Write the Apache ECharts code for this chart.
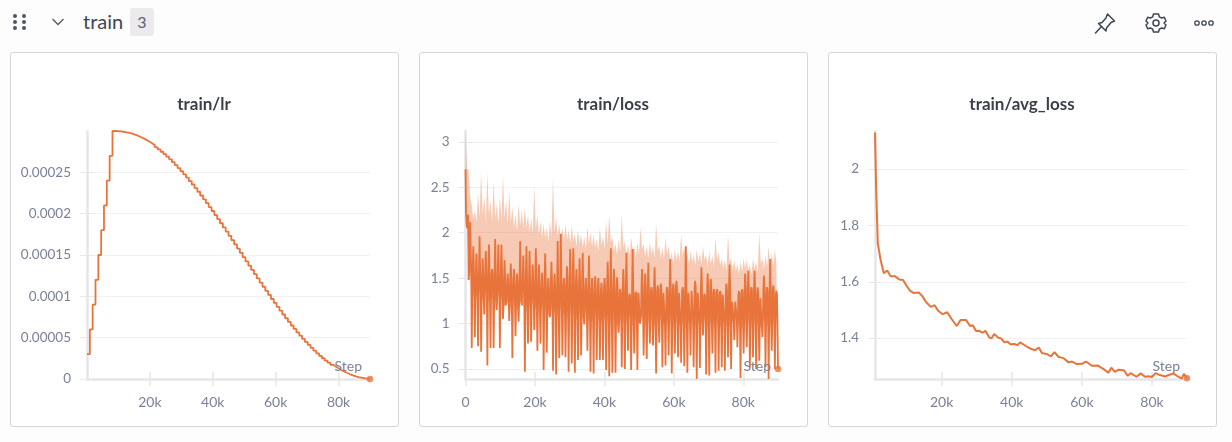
<!DOCTYPE html>
<html>
<head>
<meta charset="utf-8">
<script src="https://cdn.jsdelivr.net/npm/echarts@6/dist/echarts.min.js"></script>
<style>
html, body { margin: 0; padding: 0; background: #fdfdfd; width: 1232px; height: 442px; overflow: hidden; }
body { font-family: Lato, "Noto Sans", sans-serif; }
.card { position: absolute; top: 52px; width: 387px; height: 373px; background: #fff; border: 1px solid #d6d6d9; border-radius: 3px; }
.chart { width: 386px; height: 372px; }
.icon { position: absolute; }
#name { position: absolute; left: 83px; top: 8px; font-size: 20px; line-height: 26px; color: #3f4654; }
#count { position: absolute; left: 130px; top: 8px; width: 24px; height: 28px; line-height: 28px; text-align: center; font-size: 16px; color: #5b6270; background: #ebebed; border-radius: 3px; }
</style>
</head>
<body>

<svg class="icon" style="left:12px;top:13px" width="16" height="18" fill="#4f5663">
    <circle cx="3" cy="3" r="2"/><circle cx="12" cy="3" r="2"/>
    <circle cx="3" cy="9" r="2"/><circle cx="12" cy="9" r="2"/>
    <circle cx="3" cy="15" r="2"/><circle cx="12" cy="15" r="2"/>
</svg>
<svg class="icon" style="left:50px;top:16px" width="16" height="12" fill="none" stroke="#4f5663" stroke-width="1.3">
    <path d="M2.5 3 L8 8.5 L13.5 3"/>
</svg>
<div id="name">train</div>
<div id="count">3</div>

<svg class="icon" style="left:1093px;top:11px" width="24" height="24" fill="none" stroke="#3f4654" stroke-width="1.5" stroke-linejoin="round" stroke-linecap="round">
    <path d="M14.5 3 L21.5 10 L18 11.5 L13.5 17 L13 20 L5.5 12.5 L9 11.5 L13 7 Z"/>
    <path d="M8.5 15.5 L2.5 22"/>
</svg>
<svg class="icon" style="left:1144px;top:11px" width="24" height="24" fill="none" stroke="#3f4654" stroke-width="1.5" stroke-linejoin="round">
    <path d="M9.5 3 H14.5 L15.3 5.8 L17.6 7 L20.3 6.2 L22 10 L20 12 L22 14 L20.3 17.8 L17.6 17 L15.3 18.2 L14.5 21 H9.5 L8.7 18.2 L6.4 17 L3.7 17.8 L2 14 L4 12 L2 10 L3.7 6.2 L6.4 7 L8.7 5.8 Z"/>
    <circle cx="12" cy="12" r="3"/>
</svg>
<svg class="icon" style="left:1193px;top:18px" width="22" height="10" fill="none" stroke="#3f4654" stroke-width="1.3">
    <circle cx="4" cy="5" r="2.2"/><circle cx="11" cy="5" r="2.2"/><circle cx="18" cy="5" r="2.2"/>
</svg>

<div class="card" style="left:10px"><div id="lrChart" class="chart"></div></div>
<div class="card" style="left:419px"><div id="lossChart" class="chart"></div></div>
<div class="card" style="left:828px"><div id="avgChart" class="chart"></div></div>

<script>
const STEPS_PER_EPOCH = 900;
const LAST_STEP = 90000;

// train/lr, one value per epoch, in units of 1e-5
const lrValues = [
    3, 6, 9, 12, 15, 18, 21, 24, 27, 30,
    29.99, 29.96, 29.91, 29.84, 29.78, 29.68, 29.56, 29.43, 29.28, 29.11,
    28.93, 28.73, 28.52, 28.28, 28.03, 27.77, 27.49, 27.2, 26.89, 26.57,
    26.23, 25.88, 25.52, 25.14, 24.75, 24.36, 23.94, 23.53, 23.09, 22.65,
    22.2, 21.74, 21.27, 20.8, 20.32, 19.83, 19.34, 18.84, 18.34, 17.83,
    17.32, 16.81, 16.29, 15.78, 15.26, 14.74, 14.22, 13.71, 13.19, 12.68,
    12.17, 11.66, 11.16, 10.66, 10.17, 9.68, 9.2, 8.73, 8.26, 7.8,
    7.35, 6.91, 6.47, 6.06, 5.64, 5.25, 4.86, 4.48, 4.12, 3.77,
    3.43, 3.11, 2.8, 2.51, 2.23, 1.97, 1.72, 1.48, 1.27, 1.07,
    0.89, 0.72, 0.57, 0.44, 0.32, 0.22, 0.16, 0.09, 0.04, 0.01, 0
];

// train/loss, readings per epoch: spike down, solid core bottom and top, spike up, light band
const lossLow = [
    2.7, 1.48, 0.73, 0.85, 0.75, 0.69, 1.1, 0.54, 0.73, 0.73,
    1.15, 0.73, 1.05, 1.18, 1.03, 0.62, 0.86, 1.02, 1.2, 0.47,
    0.78, 0.8, 0.93, 0.7, 0.78, 0.49, 0.68, 1.07, 0.48, 0.44,
    0.62, 0.65, 0.63, 0.47, 0.56, 0.46, 0.6, 0.65, 0.99, 0.7,
    0.47, 0.45, 0.6, 0.6, 0.6, 0.49, 0.42, 0.46, 0.46, 0.9,
    0.52, 0.5, 0.7, 0.49, 0.67, 0.49, 0.99, 0.65, 0.61, 0.78,
    0.76, 0.45, 0.79, 0.52, 0.54, 0.65, 0.45, 0.67, 0.63, 0.57,
    0.53, 0.46, 0.65, 0.52, 0.39, 0.51, 0.87, 0.44, 0.43, 0.67,
    0.46, 0.48, 0.52, 0.48, 0.63, 0.5, 0.82, 0.74, 0.4, 0.67,
    0.74, 0.52, 0.63, 0.5, 0.59, 0.85, 0.52, 0.39, 0.7, 0.5
];
const lossHigh = [
    2.05, 2.12, 1.85, 1.77, 1.96, 1.72, 1.8, 1.87, 1.6, 1.93,
    1.87, 1.87, 1.7, 1.55, 1.66, 1.6, 1.55, 1.91, 1.75, 1.85,
    1.8, 1.65, 1.83, 1.65, 1.56, 1.77, 1.5, 1.68, 1.55, 1.91,
    1.99, 1.5, 1.63, 1.82, 1.83, 1.6, 1.72, 1.78, 1.5, 1.75,
    1.5, 1.52, 1.5, 1.45, 1.5, 1.68, 1.83, 1.6, 1.51, 1.38,
    1.6, 1.78, 1.33, 1.82, 1.35, 1.36, 1.6, 1.55, 1.67, 1.4,
    1.62, 1.42, 1.44, 1.36, 1.4, 1.71, 1.44, 1.47, 1.36, 1.4,
    1.85, 1.36, 1.38, 1.47, 1.36, 1.62, 1.33, 1.55, 1.49, 1.38,
    1.38, 1.36, 1.34, 1.44, 1.65, 1.25, 1.24, 1.36, 1.38, 1.55,
    1.58, 1.4, 1.58, 1.4, 1.29, 1.53, 1.4, 1.71, 1.42, 1.36
];
const lossCore = [
    2.2, 1.55, 1.3, 1.28, 1.32, 1.26, 1.3, 1.24, 1.28, 1.22,
    1.3, 1.26, 1.2, 1.24, 1.18, 1.22, 1.16, 1.24, 1.2, 1.14,
    1.18, 1.22, 1.16, 1.12, 1.18, 1.14, 1.1, 1.16, 1.12, 1.08,
    1.14, 1.1, 1.06, 1.12, 1.08, 1.04, 1.1, 1.06, 1.12, 1.04,
    1.02, 1.08, 1.04, 1.0, 1.06, 1.02, 1.0, 1.04, 0.98, 1.04,
    1.0, 1.02, 1.06, 0.98, 1.02, 1.0, 1.08, 0.98, 1.02, 1.04,
    0.98, 1.0, 1.04, 0.98, 1.0, 1.02, 0.96, 1.02, 0.98, 1.0,
    0.96, 1.0, 1.02, 0.96, 1.0, 0.98, 1.04, 0.96, 1.0, 0.98,
    1.02, 0.96, 1.0, 0.98, 0.96, 1.02, 1.04, 0.98, 0.96, 1.0,
    1.02, 0.96, 1.0, 0.98, 0.96, 1.04, 0.98, 0.96, 1.0, 1.0
];
const lossTop = [
    2.1, 1.8, 1.62, 1.58, 1.6, 1.55, 1.62, 1.58, 1.55, 1.6,
    1.56, 1.6, 1.5, 1.46, 1.5, 1.48, 1.45, 1.55, 1.52, 1.56,
    1.5, 1.48, 1.52, 1.48, 1.42, 1.5, 1.4, 1.46, 1.42, 1.5,
    1.52, 1.42, 1.48, 1.5, 1.52, 1.45, 1.46, 1.48, 1.4, 1.45,
    1.38, 1.4, 1.38, 1.36, 1.4, 1.44, 1.46, 1.42, 1.4, 1.34,
    1.42, 1.44, 1.3, 1.44, 1.32, 1.34, 1.42, 1.4, 1.42, 1.36,
    1.4, 1.36, 1.38, 1.34, 1.36, 1.42, 1.38, 1.4, 1.34, 1.36,
    1.44, 1.34, 1.36, 1.4, 1.34, 1.4, 1.3, 1.4, 1.38, 1.34,
    1.34, 1.32, 1.32, 1.36, 1.42, 1.24, 1.24, 1.32, 1.34, 1.4,
    1.4, 1.36, 1.4, 1.34, 1.28, 1.38, 1.36, 1.42, 1.36, 1.32
];
// top of the light band: lossUpper holds the thin peaks, lossBandTop the solid level under them
const lossUpper = [
    3.12, 2.69, 2.3, 2.25, 2.43, 2.67, 2.4, 2.65, 2.35, 2.56,
    2.32, 2.4, 2.63, 2.36, 2.45, 2.28, 2.2, 2.32, 2.25, 2.28,
    2.2, 2.17, 2.52, 2.19, 2.13, 2.1, 2.06, 2.13, 2.61, 2.17,
    2.1, 2.06, 2.1, 2.03, 2.08, 1.99, 2.03, 1.98, 1.96, 2.06,
    2.0, 1.98, 1.93, 2.06, 1.96, 2.13, 2.2, 1.95, 1.88, 1.92,
    2.2, 1.9, 1.87, 1.96, 1.85, 1.9, 2.06, 1.88, 1.86, 1.9,
    1.85, 2.1, 1.86, 1.84, 1.95, 1.85, 1.78, 1.82, 1.8, 1.99,
    1.85, 1.78, 1.8, 1.76, 1.82, 1.78, 1.85, 1.76, 1.8, 1.75,
    1.95, 1.78, 1.72, 1.7, 1.98, 1.72, 1.7, 1.66, 1.68, 1.72,
    1.7, 1.65, 1.72, 1.68, 2.0, 1.72, 1.75, 1.85, 1.78, 1.82
];
const lossBandTop = [
    2.7, 2.4, 2.15, 2.12, 2.18, 2.2, 2.14, 2.2, 2.12, 2.16,
    2.1, 2.14, 2.16, 2.08, 2.12, 2.06, 2.02, 2.08, 2.04, 2.06,
    2.0, 1.98, 2.04, 1.98, 1.95, 1.94, 1.9, 1.96, 2.0, 1.96,
    1.92, 1.9, 1.92, 1.88, 1.9, 1.85, 1.88, 1.84, 1.82, 1.88,
    1.85, 1.83, 1.8, 1.86, 1.82, 1.88, 1.9, 1.8, 1.76, 1.78,
    1.84, 1.76, 1.74, 1.8, 1.72, 1.76, 1.82, 1.74, 1.72, 1.76,
    1.72, 1.8, 1.72, 1.7, 1.76, 1.7, 1.66, 1.7, 1.68, 1.74,
    1.7, 1.65, 1.68, 1.64, 1.68, 1.65, 1.7, 1.63, 1.66, 1.62,
    1.7, 1.64, 1.6, 1.58, 1.68, 1.6, 1.58, 1.55, 1.57, 1.6,
    1.58, 1.54, 1.6, 1.56, 1.66, 1.6, 1.62, 1.66, 1.62, 1.64
];
const lossLast = 0.5;

// train/avg_loss
const avgSteps = [
    1000, 1300, 1800, 2600, 3500, 4500, 5400, 6700, 7900, 9000,
    10000, 11000, 12100, 13500, 14500, 15500, 16900, 18000, 19000, 20300,
    21600, 22900, 24300, 25400, 27000, 28100, 28900, 29800, 30800, 31600,
    32500, 33600, 34200, 35000, 36200, 37000, 37900, 38800, 39600, 40700,
    41600, 42400, 43900, 45300, 46700, 47700, 48600, 49900, 51200, 52200,
    53400, 54800, 56200, 57200, 58600, 60000, 61200, 62800, 64500, 66200,
    67600, 68400, 69400, 70500, 72000, 73100, 73900, 75600, 76800, 78000,
    79000, 80000, 81000, 82300, 83700, 85200, 86100, 87500, 88500, 89100, 90000
];
const avgValues = [
    2.13, 1.94, 1.736, 1.677, 1.63, 1.64, 1.62, 1.62, 1.608, 1.606,
    1.586, 1.568, 1.56, 1.562, 1.549, 1.529, 1.511, 1.517, 1.497, 1.485,
    1.492, 1.467, 1.443, 1.464, 1.464, 1.443, 1.446, 1.425, 1.426, 1.419,
    1.426, 1.402, 1.399, 1.415, 1.401, 1.399, 1.385, 1.388, 1.378, 1.379,
    1.375, 1.385, 1.373, 1.363, 1.357, 1.367, 1.347, 1.344, 1.335, 1.35,
    1.333, 1.329, 1.314, 1.317, 1.308, 1.309, 1.317, 1.302, 1.303, 1.29,
    1.277, 1.295, 1.28, 1.288, 1.286, 1.266, 1.276, 1.263, 1.275, 1.263,
    1.265, 1.262, 1.276, 1.269, 1.264, 1.271, 1.275, 1.263, 1.256, 1.273, 1.258
];

const lrTicks = [0, 0.00005, 0.0001, 0.00015, 0.0002, 0.00025];
const lossTicks = [0.5, 1, 1.5, 2, 2.5, 3];
const avgTicks = [1.4, 1.6, 1.8, 2];
const lrStepTicks = [20000, 40000, 60000, 80000];
const lossStepTicks = [0, 20000, 40000, 60000, 80000];
const avgStepTicks = [20000, 40000, 60000, 80000];

const ORANGE = "#e8743b";
const LABEL = "#7a8198";
const FONT = "Lato";

function stepLabel(v) {
    return v === 0 ? "0" : v / 1000 + "k";
}

// wandb draws ticks through the axis line, so every axis is doubled: one pointing out, one in
function xAxes(cfg) {
    const base = {
        type: "value",
        position: "bottom",
        min: cfg.xMin,
        max: LAST_STEP,
        splitLine: { show: false }
    };
    return [
        {
            ...base,
            axisLine: { show: true, onZero: false, lineStyle: { color: "#e6e6e8", width: 2.5 } },
            axisTick: { show: true, customValues: cfg.xTicks, length: 7, lineStyle: { color: "#e6e6e8", width: 1.5 } },
            axisLabel: { customValues: cfg.xTicks, margin: 16, color: LABEL, fontSize: 14, fontFamily: FONT, formatter: stepLabel }
        },
        {
            ...base,
            axisLine: { show: false, onZero: false },
            axisTick: { show: true, inside: true, customValues: cfg.xTicks, length: 7, lineStyle: { color: "#e6e6e8", width: 1.5 } },
            axisLabel: { show: false }
        }
    ];
}

function yAxes(cfg) {
    const base = {
        type: "value",
        position: "left",
        min: cfg.yMin,
        max: cfg.yMax
    };
    return [
        {
            ...base,
            axisLine: { show: true, onZero: false, lineStyle: { color: "#e6e6e8", width: 2.5 } },
            axisTick: { show: true, customValues: cfg.yTicks, length: 7, lineStyle: { color: "#e8e8ea" } },
            axisLabel: { customValues: cfg.yTicks, margin: 16, color: LABEL, fontSize: 13.5, fontFamily: FONT },
            splitLine: { show: true, lineStyle: { color: "#f1f1f3", width: 1 } }
        },
        {
            ...base,
            axisLine: { show: false, onZero: false },
            axisTick: { show: true, inside: true, customValues: cfg.yTicks, length: 7, lineStyle: { color: "#e8e8ea" } },
            axisLabel: { show: false },
            splitLine: { show: false }
        }
    ];
}

function createChart(elementId, cfg) {
    const chart = echarts.init(document.getElementById(elementId));

    chart.setOption({
        animation: false,
        title: {
            text: cfg.title,
            left: "center",
            top: 38,
            textStyle: { color: "#3a3f4a", fontSize: 17, fontWeight: "bold", fontFamily: FONT }
        },
        grid: { left: cfg.left, right: cfg.right, top: 78, bottom: 46 },
        xAxis: xAxes(cfg),
        yAxis: yAxes(cfg),
        series: cfg.series.concat([
            {
                type: "scatter",
                data: [cfg.lastPoint],
                symbolSize: 6.5,
                clip: false,
                itemStyle: { color: ORANGE },
                z: 5
            }
        ]),
        graphic: [
            {
                type: "text",
                right: 35,
                top: 306,
                z: 10,
                style: { text: "Step", fill: LABEL, fontSize: 14, fontFamily: FONT }
            }
        ]
    });

    return chart;
}

const lrData = lrValues.map((v, i) => [i * STEPS_PER_EPOCH, v * 1e-5]);

const lossLine = [];
const bandRows = [];
for (let i = 0; i < lossLow.length; i++) {
    const s = i * STEPS_PER_EPOCH;
    lossLine.push([s, lossLow[i]]);
    lossLine.push([s + 150, lossCore[i]]);
    lossLine.push([s + 300, lossTop[i]]);
    lossLine.push([s + 450, lossHigh[i]]);
    lossLine.push([s + 600, lossTop[i]]);
    lossLine.push([s + 750, lossCore[i]]);
    bandRows.push([s, lossCore[i], lossUpper[i]]);
    bandRows.push([s + 450, lossCore[i], lossBandTop[i]]);
}
lossLine.push([LAST_STEP, lossLast]);

const avgData = avgValues.map((v, i) => [avgSteps[i], v]);

// the light min/max band is one polygon, drawn once from all the rows
function renderBand(params, api) {
    if (params.dataIndex !== 0) {
        return null;
    }
    const upper = bandRows.map(r => api.coord([r[0], r[2]]));
    const lower = bandRows.map(r => api.coord([r[0], r[1]])).reverse();
    return {
        type: "polygon",
        shape: { points: upper.concat(lower) },
        style: { fill: ORANGE, opacity: 0.38 }
    };
}

createChart("lrChart", {
    title: "train/lr",
    left: 76,
    right: 27,
    xMin: 0,
    yMin: 0,
    yMax: 0.0003,
    xTicks: lrStepTicks,
    yTicks: lrTicks,
    lastPoint: lrData[lrData.length - 1],
    series: [
        {
            type: "line",
            step: "end",
            data: lrData,
            showSymbol: false,
            lineStyle: { color: ORANGE, width: 1.8 }
        }
    ]
});

createChart("lossChart", {
    title: "train/loss",
    left: 45.5,
    right: 28,
    xMin: 0,
    yMin: 0.39,
    yMax: 3.12,
    xTicks: lossStepTicks,
    yTicks: lossTicks,
    lastPoint: [LAST_STEP, lossLast],
    series: [
        {
            type: "custom",
            data: bandRows,
            encode: { x: 0, y: [1, 2] },
            renderItem: renderBand,
            z: 1
        },
        {
            type: "line",
            data: lossLine,
            showSymbol: false,
            lineStyle: { color: ORANGE, width: 1.8 }
        }
    ]
});

createChart("avgChart", {
    title: "train/avg_loss",
    left: 46,
    right: 28,
    xMin: 1000,
    yMin: 1.255,
    yMax: 2.135,
    xTicks: avgStepTicks,
    yTicks: avgTicks,
    lastPoint: avgData[avgData.length - 1],
    series: [
        {
            type: "line",
            data: avgData,
            showSymbol: false,
            lineStyle: { color: ORANGE, width: 2 }
        }
    ]
});
</script>
</body>
</html>
